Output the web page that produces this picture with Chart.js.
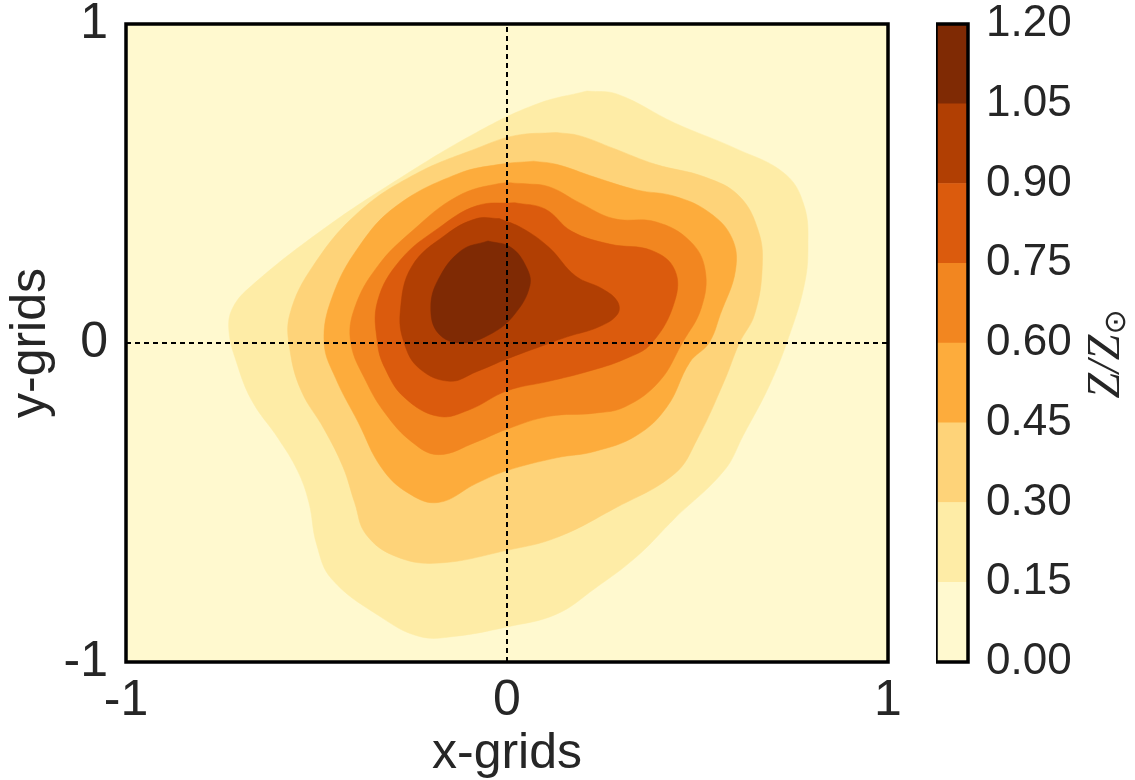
<!DOCTYPE html>
<html>
<head>
<meta charset="utf-8">
<script src="https://cdn.jsdelivr.net/npm/chart.js@4/dist/chart.umd.min.js"></script>
<style>
  body { margin: 0; background: #fff; }
  #wrap { position: relative; width: 1135px; height: 780px; }
  #wrap canvas { position: absolute; top: 0; }
  #main { left: 0; }
  #cbar { left: 936px; }
</style>
</head>
<body>
<div id="wrap">
  <canvas id="main" width="1135" height="780"></canvas>
  <canvas id="cbar" width="199" height="780"></canvas>
</div>
<script>
// contour levels of Z/Zsun and their fill colours
const levels = [0, 0.15, 0.30, 0.45, 0.60, 0.75, 0.90, 1.05, 1.20];
const bandColors = ['#fff9cf', '#feeca6', '#fed379', '#fdac3c', '#f28620', '#db5b0d', '#b13f03', '#7f2a04'];

const xTicks = [-1, 0, 1];
const yTicks = [-1, 0, 1];

// contour outlines (x, y), one per level
const contour015 = [[0.21,0.79],[0.29,0.78],[0.44,0.69],[0.60,0.61],[0.73,0.53],[0.78,0.43],[0.79,0.30],[0.78,0.18],[0.74,0.02],[0.69,-0.13],[0.62,-0.29],[0.57,-0.40],[0.44,-0.55],[0.34,-0.67],[0.23,-0.77],[0.13,-0.85],[0.00,-0.89],[-0.14,-0.92],[-0.23,-0.92],[-0.33,-0.86],[-0.46,-0.74],[-0.50,-0.63],[-0.52,-0.50],[-0.55,-0.40],[-0.60,-0.30],[-0.67,-0.18],[-0.71,-0.06],[-0.73,0.04],[-0.72,0.11],[-0.67,0.18],[-0.49,0.35],[-0.29,0.51],[-0.08,0.66],[0.08,0.75]];
const contour030 = [[0.13,0.66],[0.19,0.65],[0.28,0.61],[0.39,0.56],[0.52,0.52],[0.61,0.46],[0.66,0.35],[0.67,0.24],[0.65,0.09],[0.61,0.00],[0.57,-0.12],[0.50,-0.30],[0.44,-0.41],[0.28,-0.52],[0.13,-0.61],[0.00,-0.65],[-0.18,-0.69],[-0.29,-0.67],[-0.37,-0.60],[-0.40,-0.50],[-0.43,-0.39],[-0.48,-0.27],[-0.54,-0.15],[-0.57,-0.02],[-0.57,0.09],[-0.51,0.24],[-0.39,0.41],[-0.24,0.53],[-0.08,0.61],[0.02,0.65]];
const contour045 = [[0.07,0.57],[0.13,0.56],[0.23,0.52],[0.34,0.48],[0.44,0.46],[0.53,0.41],[0.59,0.33],[0.60,0.23],[0.56,0.09],[0.53,0.00],[0.48,-0.06],[0.42,-0.20],[0.34,-0.29],[0.23,-0.34],[0.13,-0.36],[0.00,-0.40],[-0.08,-0.44],[-0.18,-0.50],[-0.26,-0.47],[-0.33,-0.39],[-0.39,-0.25],[-0.45,-0.11],[-0.48,0.00],[-0.46,0.14],[-0.39,0.30],[-0.29,0.43],[-0.13,0.53],[-0.02,0.56]];
const contour060 = [[0.04,0.50],[0.11,0.49],[0.19,0.44],[0.28,0.39],[0.39,0.38],[0.48,0.32],[0.52,0.23],[0.51,0.11],[0.46,0.00],[0.40,-0.12],[0.31,-0.20],[0.23,-0.22],[0.11,-0.23],[0.00,-0.27],[-0.08,-0.31],[-0.18,-0.35],[-0.25,-0.31],[-0.32,-0.22],[-0.37,-0.12],[-0.41,0.00],[-0.40,0.11],[-0.34,0.24],[-0.25,0.35],[-0.13,0.46],[-0.02,0.50]];
const contour075 = [[0.02,0.44],[0.10,0.42],[0.17,0.35],[0.27,0.31],[0.38,0.29],[0.44,0.23],[0.44,0.13],[0.38,0.00],[0.31,-0.05],[0.21,-0.09],[0.11,-0.12],[0.00,-0.15],[-0.10,-0.21],[-0.18,-0.23],[-0.27,-0.17],[-0.32,-0.08],[-0.34,0.00],[-0.34,0.13],[-0.28,0.26],[-0.18,0.36],[-0.08,0.43]];
const contour090 = [[-0.02,0.39],[0.04,0.36],[0.11,0.30],[0.18,0.21],[0.25,0.17],[0.29,0.13],[0.29,0.09],[0.24,0.05],[0.16,0.02],[0.09,-0.01],[0.00,-0.05],[-0.08,-0.09],[-0.15,-0.12],[-0.23,-0.08],[-0.27,0.00],[-0.28,0.10],[-0.25,0.24],[-0.16,0.34],[-0.08,0.39]];
const contour105 = [[-0.05,0.32],[0.01,0.30],[0.05,0.24],[0.06,0.18],[0.02,0.09],[-0.04,0.03],[-0.12,0.00],[-0.18,0.03],[-0.20,0.11],[-0.18,0.20],[-0.12,0.29]];

const contours = [contour015, contour030, contour045, contour060, contour075, contour090, contour105];

const textColor = '#262626';
const sans = "'Liberation Sans', Arial, sans-serif";

function closed(pts) {
  const out = pts.map(p => ({ x: p[0], y: p[1] }));
  out.push({ x: pts[0][0], y: pts[0][1] });
  return out;
}

// keep tick labels from pushing the plot area inwards
function noPad(s) {
  s.paddingTop = 0; s.paddingBottom = 0; s.paddingLeft = 0; s.paddingRight = 0;
}

const datasets = contours.map((c, i) => ({
  data: closed(c),
  showLine: true,
  fill: 'shape',
  backgroundColor: bandColors[i + 1],
  borderColor: bandColors[i + 1],
  borderWidth: 0.5,
  pointRadius: 0,
  tension: 0.4,
  order: 20 - i
}));

// dashed cross through the origin
datasets.push({
  data: [{ x: -1, y: 0 }, { x: 1, y: 0 }],
  showLine: true, fill: false, borderColor: '#000', borderWidth: 2,
  borderDash: [5, 4], pointRadius: 0, order: 1
});
datasets.push({
  data: [{ x: 0, y: -1 }, { x: 0, y: 1 }],
  showLine: true, fill: false, borderColor: '#000', borderWidth: 2,
  borderDash: [5, 4], pointRadius: 0, order: 1
});

const framePlugin = {
  id: 'frame',
  beforeDraw(chart, args, opts) {
    const a = chart.chartArea, ctx = chart.ctx;
    if (opts.bg) {
      ctx.save();
      ctx.fillStyle = opts.bg;
      ctx.fillRect(a.left, a.top, a.right - a.left, a.bottom - a.top);
      ctx.restore();
    }
  },
  afterDraw(chart) {
    const a = chart.chartArea, ctx = chart.ctx;
    ctx.save();
    ctx.strokeStyle = '#000';
    ctx.lineWidth = 3.5;
    ctx.strokeRect(a.left, a.top, a.right - a.left, a.bottom - a.top);
    ctx.restore();
  }
};

new Chart(document.getElementById('main'), {
  type: 'scatter',
  data: { datasets: datasets },
  plugins: [framePlugin],
  options: {
    responsive: false,
    animation: false,
    layout: { padding: { top: 24, right: 247, left: 0, bottom: 0 } },
    plugins: {
      legend: { display: false },
      tooltip: { enabled: false },
      frame: { bg: bandColors[0] }
    },
    scales: {
      x: {
        type: 'linear', min: -1, max: 1,
        grid: { display: false }, border: { display: false },
        afterBuildTicks: s => { s.ticks = xTicks.map(v => ({ value: v })); },
        afterFit: s => { s.height = 118; noPad(s); },
        ticks: { color: textColor, padding: 6, font: { family: sans, size: 50, lineHeight: 1 } },
        title: { display: true, text: 'x-grids', color: textColor, padding: { top: 0, bottom: 0 },
                 font: { family: sans, size: 50, lineHeight: 1.05 } }
      },
      y: {
        type: 'linear', min: -1, max: 1,
        grid: { display: false }, border: { display: false },
        afterBuildTicks: s => { s.ticks = yTicks.map(v => ({ value: v })); },
        afterFit: s => { s.width = 126; noPad(s); },
        ticks: { color: textColor, padding: 10, font: { family: sans, size: 50, lineHeight: 0.9 } },
        title: { display: true, text: 'y-grids', color: textColor, padding: { top: 4, bottom: 4 },
                 font: { family: sans, size: 50, lineHeight: 1.1 } }
      }
    }
  }
});

// colour bar
const bands = bandColors.map((c, i) => ({
  data: [[levels[i], levels[i + 1]]],
  backgroundColor: c,
  borderWidth: 0,
  barPercentage: 1,
  categoryPercentage: 1,
  grouped: false
}));

const cbarTitle = {
  id: 'cbarTitle',
  afterDraw(chart) {
    const ctx = chart.ctx;
    ctx.save();
    ctx.translate(171, 354);
    ctx.rotate(-Math.PI / 2);
    ctx.fillStyle = textColor;
    ctx.textBaseline = 'middle';
    ctx.font = "italic 46px 'Liberation Serif', serif";
    const main = 'Z/Z';
    const w1 = ctx.measureText(main).width;
    ctx.font = "30px 'DejaVu Sans', sans-serif";
    const w2 = ctx.measureText('\u2299').width;
    const x0 = -(w1 + w2) / 2;
    ctx.font = "italic 46px 'Liberation Serif', serif";
    ctx.fillText(main, x0, 0);
    ctx.font = "30px 'DejaVu Sans', sans-serif";
    ctx.fillText('\u2299', x0 + w1, 10);
    ctx.restore();
  }
};

new Chart(document.getElementById('cbar'), {
  type: 'bar',
  data: { labels: [''], datasets: bands },
  plugins: [framePlugin, cbarTitle],
  options: {
    responsive: false,
    animation: false,
    layout: { padding: { top: 24, right: 0, left: 0, bottom: 118 } },
    plugins: { legend: { display: false }, tooltip: { enabled: false }, frame: {} },
    scales: {
      x: { display: false },
      y: {
        position: 'right', min: 0, max: 1.2,
        grid: { display: false }, border: { display: false },
        afterBuildTicks: s => { s.ticks = levels.map(v => ({ value: v })); },
        afterFit: s => { s.width = 167; noPad(s); },
        ticks: { color: textColor, padding: 10, callback: v => Number(v).toFixed(2),
                 font: { family: sans, size: 44, lineHeight: 1 } }
      }
    }
  }
});
</script>
</body>
</html>
